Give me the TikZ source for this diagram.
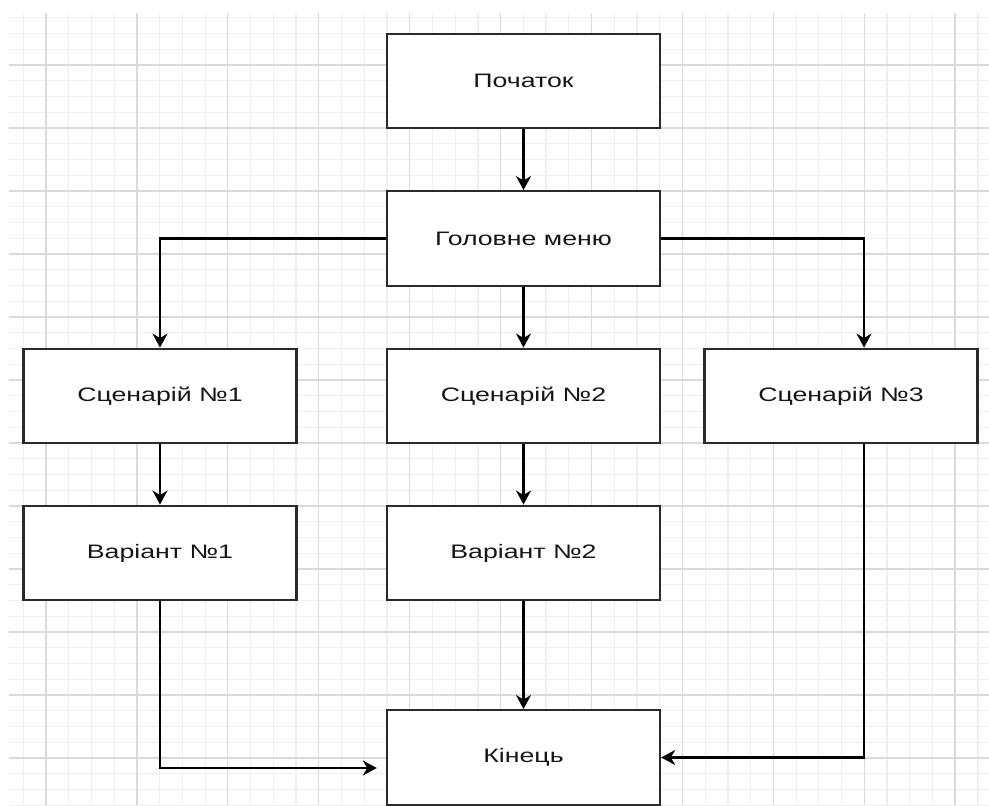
\documentclass[tikz,border=0pt]{standalone}
\usepackage{fontspec}
\usepackage{graphicx}
\setmainfont{Liberation Sans}
\usetikzlibrary{arrows.meta,calc}

\definecolor{gridmajor}{HTML}{DADADA}
\definecolor{gridminor}{HTML}{EFEFEF}
\definecolor{boxline}{HTML}{2A2A2A}
\definecolor{labeltext}{HTML}{161616}

% wide labels, the way the boxes print them
\newcommand{\widelabel}[1]{\scalebox{1.37}[1]{#1}}

\tikzset{
  flowbox/.style={draw=boxline, line width=2.4pt, fill=white,
    minimum width=273pt, minimum height=94.5pt, inner sep=0pt,
    text=labeltext, font=\fontsize{19.5}{22}\selectfont},
  flowline/.style={draw=black, line width=2.3pt,
    -{Stealth[length=14pt,width=15pt,inset=4.5pt]}},
}

\begin{document}
\begin{tikzpicture}[x=1pt,y=-1pt]
  \fill[white] (0,0) rectangle (989,806);
  \useasboundingbox (0,0) rectangle (989,806);

  % squared paper
  \begin{scope}
    \clip (9,13) rectangle (989,805);
    \foreach \i in {0,...,43} {
      \draw[gridminor, line width=1.2pt] ({23.3+22.73*\i},13) -- ({23.3+22.73*\i},805);
    }
    \foreach \i in {0,...,51} {
      \draw[gridminor, line width=1.2pt] (9,{17.75+15.75*\i}) -- (989,{17.75+15.75*\i});
    }
    \foreach \i in {0,...,10} {
      \draw[gridmajor, line width=1.2pt] ({46+90.9*\i},13) -- ({46+90.9*\i},805);
    }
    \foreach \i in {1,...,12} {
      \draw[gridmajor, line width=1.2pt] (9,{2+63*\i}) -- (989,{2+63*\i});
    }
  \end{scope}

  % boxes
  \node[flowbox] (start) at (523.5,81)    {\widelabel{Початок}};
  \node[flowbox] (menu)  at (523.5,238.5) {\widelabel{Головне меню}};
  \node[flowbox] (sc1)   at (160,396)     {\widelabel{Сценарій №1}};
  \node[flowbox] (sc2)   at (523.5,396)   {\widelabel{Сценарій №2}};
  \node[flowbox] (sc3)   at (841,396)     {\widelabel{Сценарій №3}};
  \node[flowbox] (var1)  at (160,553)     {\widelabel{Варіант №1}};
  \node[flowbox] (var2)  at (523.5,553)   {\widelabel{Варіант №2}};
  \node[flowbox] (fin)   at (523.5,757.5) {\widelabel{Кінець}};

  % free end of the left return line, short of the end box
  \coordinate (finin) at ([xshift=-9pt,yshift=-10.5pt]fin.west);

  % connectors
  \draw[flowline] (start) -- (menu);
  \draw[flowline] (menu.west) -| (sc1.north);
  \draw[flowline] (menu) -- (sc2);
  \draw[flowline] (menu.east) -| ([xshift=23pt]sc3.north);
  \draw[flowline] (sc1) -- (var1);
  \draw[flowline] (sc2) -- (var2);
  \draw[flowline] (var2) -- (fin);
  \draw[flowline] (var1.south) |- (finin);
  \draw[flowline] ([xshift=23pt]sc3.south) |- (fin.east);
\end{tikzpicture}
\end{document}
